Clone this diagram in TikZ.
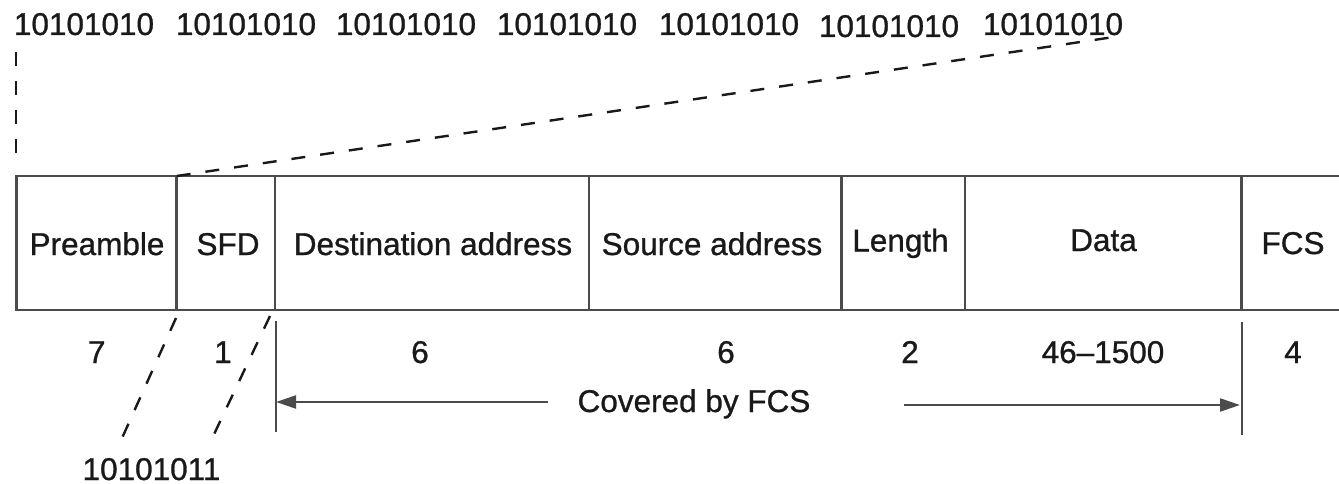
\documentclass[tikz,border=0pt]{standalone}
\usepackage{fontspec}
\setmainfont{Liberation Sans}[FakeBold=0.9]
\usetikzlibrary{arrows.meta}
\definecolor{linegray}{RGB}{75,75,75}
\definecolor{txt}{RGB}{25,25,25}
\begin{document}
\begin{tikzpicture}[x=1pt,y=-1pt,
  lbl/.style={anchor=base,inner sep=0pt,text=txt,font=\fontsize{31.5}{36}\selectfont},
  frame/.style={draw=linegray,line width=2.6pt},
  dash line/.style={draw=txt,line width=2.4pt,dash pattern=on 14pt off 15pt},
  cover/.style={draw=linegray,line width=2.2pt},
  tip/.style={-{Triangle[length=20pt,width=13pt]}}]
\useasboundingbox (0,0) rectangle (1339,484);
% frame
\coordinate (tl) at (16.7,176);
\coordinate (bl) at (16.7,310);
\coordinate (tr) at (1345,176);
\coordinate (br) at (1345,310);
\draw[frame] (tr) -- (tl) -- (bl) -- (br);
\foreach \x/\n in {176.7/a,275/b,589/c,841.7/d,965/e,1241.7/f}{
  \coordinate (t\n) at (\x,176);
  \coordinate (b\n) at (\x,310);
  \draw[frame] (t\n) -- (b\n);
}
% field labels
\node[lbl] (pre) at (97,255) {Preamble};
\node[lbl] (sfd) at (228,255) {SFD};
\node[lbl] (dst) at (433,255) {Destination address};
\node[lbl] (src) at (712,255) {Source address};
\node[lbl] (len) at (900.5,251.5) {Length};
\node[lbl] (dat) at (1103.5,251) {Data};
\node[lbl] (fcs) at (1293,254) {FCS};
% sizes
\node[lbl] (n7) at (96.7,363) {7};
\node[lbl] (n1) at (223,363) {1};
\node[lbl] (n6a) at (420,363) {6};
\node[lbl] (n6b) at (726,363) {6};
\node[lbl] (n2) at (910,363) {2};
\node[lbl] (n46) at (1103,363) {46–1500};
\node[lbl] (n4) at (1293,363) {4};
% preamble bytes
\node[lbl] (p1) at (84,35) {10101010};
\node[lbl] (p2) at (246,35) {10101010};
\node[lbl] (p3) at (406,35) {10101010};
\node[lbl] (p4) at (567,35) {10101010};
\node[lbl] (p5) at (729,35) {10101010};
\node[lbl] (p6) at (889,37) {10101010};
\node[lbl] (p7) at (1053,35) {10101010};
\node[lbl] (sfdbits) at (151.5,480) {10101011};
% dashed expansions
\coordinate (v1) at (16,52);
\coordinate (v2) at (16,163);
\draw[dash line] (v1) -- (v2);
\coordinate (d1) at (1114,37);
\draw[dash line] (ta) -- (d1);
\coordinate (s1) at (176,318);
\coordinate (s2) at (118,447);
\coordinate (s3) at (270,316);
\coordinate (s4) at (208,447);
\draw[dash line] (s1) -- (s2);
\draw[dash line] (s3) -- (s4);
% covered by FCS
\coordinate (cl1) at (276,321);
\coordinate (cl2) at (276,432);
\coordinate (cr1) at (1241.7,322);
\coordinate (cr2) at (1241.7,435);
\draw[cover] (cl1) -- (cl2);
\draw[cover] (cr1) -- (cr2);
\node[lbl] (cov) at (694,412) {Covered by FCS};
\coordinate (al) at (548,402);
\coordinate (ar) at (904,405);
\draw[cover,tip] (al) -- (276,402);
\draw[cover,tip] (ar) -- (1240,405);
\end{tikzpicture}
\end{document}
